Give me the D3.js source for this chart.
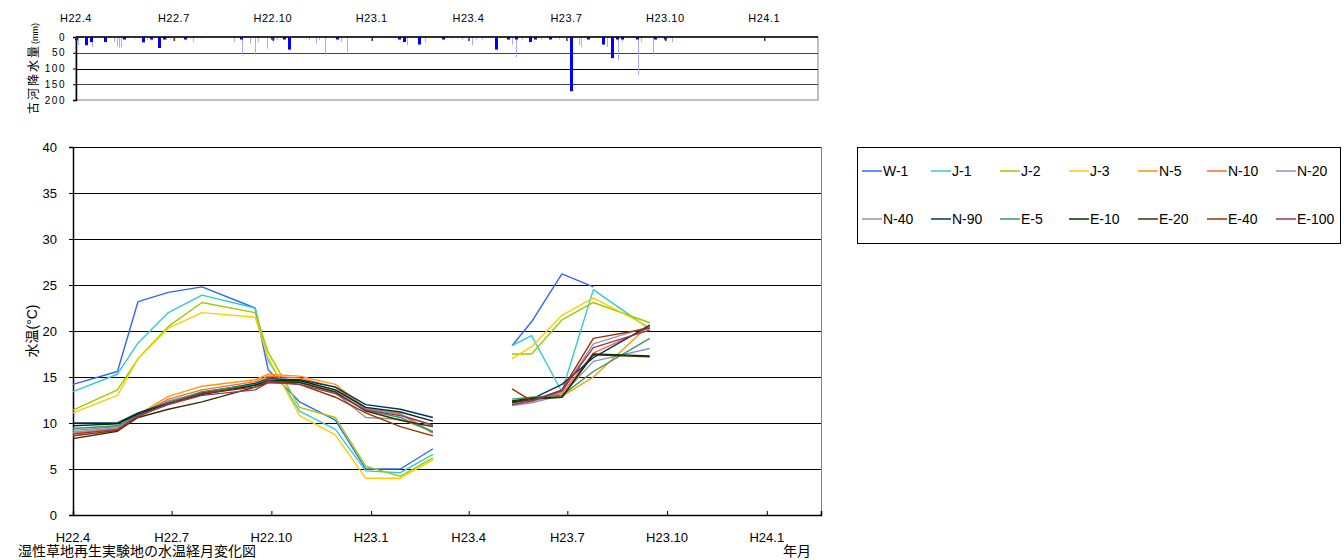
<!DOCTYPE html>
<html><head><meta charset="utf-8">
<script src="https://cdn.jsdelivr.net/npm/d3@7"></script>
<style>
body{margin:0;background:#fff}
svg{display:block}
text{font-family:"Liberation Sans","Noto Sans CJK JP",sans-serif;fill:#000}
</style>
</head><body>
<svg id="c" width="1344" height="560"></svg>
<script>
// ---------- data ----------
const tickDates  = ["2010-04-01","2010-07-01","2010-10-01","2011-01-01","2011-04-01","2011-07-01","2011-10-01","2012-01-01"];
const tickLabels = ["H22.4","H22.7","H22.10","H23.1","H23.4","H23.7","H23.10","H24.1"];
const axisStart = "2010-04-01", axisEnd = "2012-02-20";

// survey dates (two observation periods)
const surveyDates = ["2010-04-01","2010-05-12","2010-05-31","2010-06-28","2010-07-29","2010-09-16","2010-09-28",
                     "2010-10-27","2010-11-29","2010-12-27","2011-01-28","2011-02-27",
                     "2011-05-11","2011-05-29","2011-06-26","2011-07-25","2011-09-15"];
const periodBreak = 12; // first index of second period

const seriesNames  = ["W-1","J-1","J-2","J-3","N-5","N-10","N-20","N-40","N-90","E-5","E-10","E-20","E-40","E-100"];
const seriesColors = ["#3366FF","#33CCCC","#99CC00","#FFCC00","#FF9900","#FF6633","#8E8EC4","#969696","#003366","#339966","#003300","#333300","#993300","#993366"];

const W1   = [14.2,15.6,23.2,24.2,24.8,22.5,15.8,12.3,10.3,5.0,5.0,7.2, 18.4,21.0,26.2,24.8,null];
const J1   = [13.4,15.3,18.7,22.0,23.9,22.5,16.8,11.3,9.3,4.8,4.6,6.6, 18.4,19.5,13.4,24.5,20.2];
const J2   = [11.4,13.6,17.0,20.5,23.1,22.0,17.7,11.7,10.6,5.3,4.2,6.2, 17.5,17.5,21.2,23.1,20.9];
const J3   = [11.1,13.0,17.0,20.3,22.0,21.5,17.1,10.8,8.7,4.0,4.0,6.0, 17.0,18.3,21.7,23.6,20.4];
const N5   = [8.9,9.4,10.9,12.9,14.0,14.7,15.3,15.1,14.2,11.6,11.0,9.0, 12.3,12.6,12.9,15.0,20.7];
const N10  = [8.6,9.2,10.8,12.6,13.6,14.5,15.1,14.9,13.9,11.5,11.0,8.9, 12.2,12.5,13.2,17.6,20.4];
const N20  = [9.2,9.6,11.0,12.4,13.3,14.3,14.9,14.6,13.6,11.6,10.9,9.7, 11.9,12.2,13.0,16.7,18.1];
const N40  = [9.0,9.5,10.9,12.3,13.2,14.2,14.8,14.5,13.3,10.6,10.4,9.1, 12.0,12.3,13.4,18.6,20.5];
const N90  = [10.0,10.0,11.1,12.2,13.3,14.3,14.8,14.7,13.9,12.0,11.5,10.6, 12.3,12.6,14.2,17.1,20.6];
const E5   = [9.4,9.7,10.9,12.2,13.4,14.2,14.7,14.4,13.3,11.4,10.6,9.0, 12.6,12.8,13.0,15.6,19.2];
const E10  = [9.7,9.9,11.0,12.1,13.1,14.1,14.6,14.6,13.6,11.7,11.2,10.2, 12.4,12.7,12.8,17.5,17.3];
const E20  = [8.3,9.1,10.6,11.5,12.3,13.9,14.4,14.4,13.4,11.3,10.3,9.6, 12.2,12.6,12.8,17.4,17.2];
const E40  = [8.6,9.2,10.7,12.1,13.2,13.9,14.6,14.2,12.8,11.1,9.6,8.6, 13.7,12.4,13.6,19.2,20.3];
const E100 = [8.8,9.3,10.8,12.0,13.0,13.6,14.4,14.2,13.2,11.4,10.8,9.8, 12.0,12.4,13.5,18.2,20.1];
const seriesValues = [W1,J1,J2,J3,N5,N10,N20,N40,N90,E5,E10,E20,E40,E100];

const tempTicks = [0,5,10,15,20,25,30,35,40];
const rainTicks = [0,50,100,150,200];

// precipitation (days after 2010-04-01, mm)
const rainDarkDay = [0,9,14,27,45,62,70,77,82,101,153,182,193,198,243,300,305,319,341,
                     391,402,409,422,427,441,460,476,490,498,503,508,522,538,548];
const rainDarkMm  = [10,26,16,16,8,17,8,35,8,8,8,8,8,40,8,8,16,24,8,
                     40,8,8,16,8,8,172,8,24,67,8,8,8,8,8];
const rainLightDay = [2,15,35,38,40,42,55,66,84,87,90,109,117,147,154,162,166,169,178,184,187,
                      214,217,223,226,232,239,246,252,308,325,350,359,368,372,378,403,405,409,415,
                      432,449,468,470,494,504,508,523,525,537,554];
const rainLightMm  = [26,32,16,30,34,32,5,10,10,5,5,16,5,16,58,21,58,16,37,10,10,
                      5,10,23,10,58,5,16,48,26,16,5,8,26,8,8,10,24,64,8,
                      8,8,26,32,32,74,16,122,16,58,16];

// ---------- drawing ----------
const parse = d3.timeParse("%Y-%m-%d");
const svg = d3.select("#c");
const FONT = '"Liberation Sans","Noto Sans CJK JP",sans-serif';

// ===== top: precipitation =====
const tp = {l:76, r:818, t:37, b:100};
const xr = d3.scaleTime().domain([parse(axisStart), parse(axisEnd)]).range([tp.l, tp.r]);
const yr = d3.scaleLinear().domain([0,200]).range([tp.t, tp.b]);
const topG = svg.append("g");

topG.append("rect").attr("x",tp.l).attr("y",tp.t).attr("width",tp.r-tp.l).attr("height",tp.b-tp.t)
   .attr("fill","none").attr("stroke","#808080").attr("stroke-width",1);
topG.append("g").attr("transform",`translate(${tp.l},0)`)
   .call(d3.axisLeft(yr).tickValues([50,100,150]).tickSize(-(tp.r-tp.l)).tickFormat(""))
   .call(g=>g.select(".domain").remove())
   .call(g=>g.selectAll("line").attr("stroke",(d)=>d===100?"#000":"#444").attr("shape-rendering","crispEdges"));
topG.append("g").attr("transform",`translate(${tp.l},0)`)
   .call(d3.axisLeft(yr).tickValues(rainTicks).tickSize(3).tickPadding(7))
   .call(g=>g.select(".domain").attr("stroke","#000").attr("stroke-width",1.5))
   .call(g=>g.selectAll("text").attr("font-size",10).attr("font-family",FONT).attr("letter-spacing","1.5px"));

const lightDates = rainLightDay.map(d=>d3.timeDay.offset(parse(axisStart), d));
topG.append("g").selectAll("line").data(rainLightMm).join("line")
   .attr("x1",(d,i)=>Math.round(xr(lightDates[i]))+0.5).attr("x2",(d,i)=>Math.round(xr(lightDates[i]))+0.5)
   .attr("y1",yr(0)).attr("y2",d=>yr(d)).attr("stroke","#AAAAFF").attr("stroke-width",1);
const darkDates = rainDarkDay.map(d=>d3.timeDay.offset(parse(axisStart), d));
topG.append("g").selectAll("rect").data(rainDarkMm).join("rect")
   .attr("x",(d,i)=>Math.round(xr(darkDates[i]))-1).attr("width",3)
   .attr("y",yr(0)).attr("height",d=>yr(d)-yr(0)).attr("fill","#0000FF");

topG.append("line").attr("x1",tp.l).attr("x2",tp.r).attr("y1",tp.t).attr("y2",tp.t)
   .attr("stroke","#000").attr("stroke-width",1.5);
topG.append("g").attr("transform",`translate(0,${tp.t})`)
   .call(d3.axisBottom(xr).tickValues(tickDates.map(parse)).tickSize(4).tickFormat(""))
   .call(g=>g.select(".domain").remove())
   .call(g=>g.selectAll("line").attr("stroke","#333").attr("stroke-width",1.5));
topG.append("g").selectAll("text").data(tickLabels).join("text")
   .attr("x",(d,i)=>xr(parse(tickDates[i]))).attr("y",22).attr("text-anchor","middle")
   .attr("font-size",11).attr("letter-spacing","0.5px").text(d=>d);
topG.append("text").attr("transform",`translate(38,${(tp.t+tp.b)/2}) rotate(-90)`)
   .attr("text-anchor","middle").attr("font-size",12).attr("letter-spacing","2px")
   .text("古河降水量").append("tspan").attr("font-size",9).attr("letter-spacing","0px").text("(mm)");

// ===== main: water temperature =====
const mp = {l:73, r:821, t:147, b:515};
const x = d3.scaleTime().domain([parse(axisStart), parse(axisEnd)]).range([mp.l, mp.r]);
const y = d3.scaleLinear().domain([0,40]).range([mp.b, mp.t]);
const mainG = svg.append("g");

mainG.append("line").attr("x1",mp.r).attr("x2",mp.r).attr("y1",mp.t).attr("y2",mp.b)
    .attr("stroke","#808080").attr("shape-rendering","crispEdges");
mainG.append("g").attr("transform",`translate(${mp.l},0)`)
    .call(d3.axisLeft(y).tickValues(tempTicks.slice(1)).tickSize(-(mp.r-mp.l)).tickFormat(""))
    .call(g=>g.select(".domain").remove())
    .call(g=>g.selectAll("line").attr("stroke","#000").attr("shape-rendering","crispEdges"));
mainG.append("g").attr("transform",`translate(${mp.l},0)`)
    .call(d3.axisLeft(y).tickValues(tempTicks).tickSize(4).tickPadding(12))
    .call(g=>g.select(".domain").attr("stroke","#000").attr("stroke-width",1.5))
    .call(g=>g.selectAll("text").attr("font-size",13).attr("font-family",FONT));
mainG.append("g").attr("transform",`translate(0,${mp.b})`)
    .call(d3.axisBottom(x).tickValues(tickDates.map(parse)).tickSize(-4).tickFormat(""))
    .call(g=>g.select(".domain").attr("stroke","#000").attr("stroke-width",1.5))
    .call(g=>g.selectAll(".tick line").attr("stroke","#000"));
mainG.append("g").selectAll("text").data(tickLabels).join("text")
    .attr("x",(d,i)=>x(parse(tickDates[i]))).attr("y",542).attr("text-anchor","middle")
    .attr("font-size",13).text(d=>d);
mainG.append("text").attr("transform",`translate(37,${(mp.t+mp.b)/2}) rotate(-90)`)
    .attr("text-anchor","middle").attr("font-size",14).text("水温(°C)");

const dates = surveyDates.map(parse);
const line = d3.line().defined(d=>d.v!=null).x(d=>x(d.t)).y(d=>y(d.v));
const segs = [[0,periodBreak],[periodBreak,surveyDates.length]];
seriesValues.forEach((vals,si)=>{
  segs.forEach(([a,b])=>{
    const pts = vals.slice(a,b).map((v,k)=>({t:dates[a+k], v}));
    mainG.append("path").attr("d",line(pts)).attr("fill","none")
        .attr("stroke",seriesColors[si]).attr("stroke-width",1.4).attr("stroke-linejoin","round");
  });
});

svg.append("text").attr("x",18).attr("y",556).attr("font-size",14).text("湿性草地再生実験地の水温経月変化図");
svg.append("text").attr("x",783).attr("y",556).attr("font-size",14).text("年月");

// ===== legend =====
const lg = svg.append("g");
lg.append("rect").attr("x",857.5).attr("y",147.5).attr("width",483).attr("height",96)
  .attr("fill","#fff").attr("stroke","#000").attr("stroke-width",1);
const colX = [862,931,1000,1069,1138,1207,1276];
const rowY = [171,219];
seriesNames.forEach((n,i)=>{
  const cx = colX[i%7], cy = rowY[Math.floor(i/7)];
  lg.append("line").attr("x1",cx).attr("x2",cx+20).attr("y1",cy).attr("y2",cy)
    .attr("stroke",seriesColors[i]).attr("stroke-width",1.5);
  lg.append("text").attr("x",cx+21).attr("y",cy+5).attr("font-size",14).text(n);
});
</script>
</body></html>
